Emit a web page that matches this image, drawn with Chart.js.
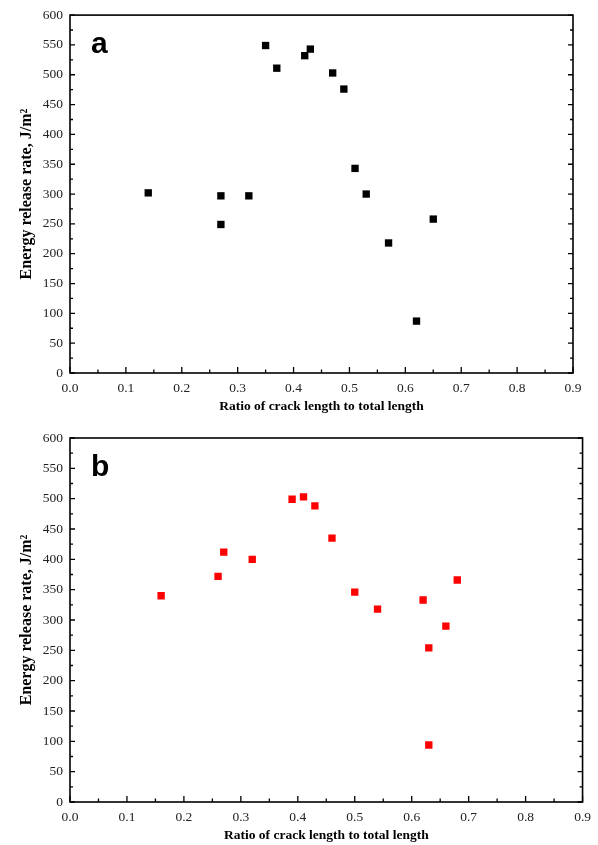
<!DOCTYPE html>
<html>
<head>
<meta charset="utf-8">
<script src="https://cdn.jsdelivr.net/npm/chart.js@4.4.0/dist/chart.umd.min.js"></script>
<style>
  html, body { margin: 0; padding: 0; background: #fff; }
  .panel { position: absolute; left: 0; width: 598px; }
  #wrapA { top: 0; height: 420px; }
  #wrapB { top: 420px; height: 425px; }
</style>
</head>
<body>
<div class="panel" id="wrapA"><canvas id="chartA"></canvas></div>
<div class="panel" id="wrapB"><canvas id="chartB"></canvas></div>
<script>
// panel a (black squares)
const ratioA  = [0.14, 0.27, 0.27, 0.32, 0.35, 0.37, 0.42, 0.43, 0.47, 0.49, 0.51, 0.53, 0.57, 0.62, 0.65];
const energyA = [302, 297, 249, 297, 549, 511, 532, 543, 503, 476, 343, 300, 218, 87, 258];

// panel b (red squares)
const ratioB  = [0.16, 0.26, 0.27, 0.32, 0.39, 0.41, 0.43, 0.46, 0.50, 0.54, 0.62, 0.68, 0.66, 0.63, 0.63];
const energyB = [340, 372, 412, 400, 499, 503, 488, 435, 346, 318, 333, 366, 290, 254, 94];

const xTitle = "Ratio of crack length to total length";
const yTitle = "Energy release rate, J/m\u00B2";
const serif = '"Liberation Serif", "Times New Roman", serif';

// frame, inward ticks and the panel letter
const framePlugin = {
    id: "frame",
    afterDraw(chart, args, opts) {
        const ctx = chart.ctx;
        const a = chart.chartArea;
        const x = chart.scales.x, y = chart.scales.y;
        ctx.save();
        ctx.strokeStyle = "#000";
        ctx.lineWidth = 1.6;
        ctx.strokeRect(a.left, a.top, a.right - a.left, a.bottom - a.top);

        ctx.lineWidth = 1.3;
        ctx.beginPath();
        for (let i = 0; i <= 18; i++) {
            const px = x.getPixelForValue(i * 0.05);
            const len = i % 2 === 0 ? 6 : 3.5;
            ctx.moveTo(px, a.bottom);
            ctx.lineTo(px, a.bottom - len);
        }
        for (let i = 0; i <= 24; i++) {
            const py = y.getPixelForValue(i * 25);
            const len = i % 2 === 0 ? 5 : 3;
            ctx.moveTo(a.left, py);
            ctx.lineTo(a.left + len, py);
            ctx.moveTo(a.right, py);
            ctx.lineTo(a.right - len, py);
        }
        ctx.stroke();

        ctx.fillStyle = "#000";
        ctx.font = 'bold 30px "Liberation Sans", Arial, sans-serif';
        ctx.textBaseline = "alphabetic";
        ctx.fillText(opts.letter, a.left + 21, a.top + 38);
        ctx.restore();
    }
};

function makeOptions(letter, topPad, rightPad, xHeight, titlePad) {
    return {
        responsive: true,
        maintainAspectRatio: false,
        animation: false,
        layout: { padding: { top: topPad, right: rightPad, left: 0, bottom: 0 } },
        plugins: {
            legend: { display: false },
            tooltip: { enabled: false },
            frame: { letter: letter }
        },
        scales: {
            x: {
                type: "linear",
                min: 0, max: 0.9,
                grid: { display: false, drawTicks: false },
                border: { display: false },
                ticks: {
                    stepSize: 0.1, padding: 7, color: "#222", autoSkip: false, maxRotation: 0,
                    font: { family: serif, size: 13.5 },
                    callback: v => v.toFixed(1)
                },
                title: {
                    display: true, text: xTitle, color: "#000",
                    font: { family: serif, size: 13.5, weight: "bold" },
                    padding: { top: 0, bottom: titlePad }
                },
                afterFit: s => { s.height = xHeight; }
            },
            y: {
                min: 0, max: 600,
                grid: { display: false, drawTicks: false },
                border: { display: false },
                ticks: {
                    stepSize: 50, padding: 7, color: "#222",
                    font: { family: serif, size: 13.5 }
                },
                title: {
                    display: true, text: yTitle, color: "#000",
                    font: { family: serif, size: 16, weight: "bold" },
                    padding: { top: 17, bottom: 0 }
                },
                afterFit: s => { s.width = 70; }
            }
        }
    };
}

function toPoints(xs, ys) {
    return xs.map((v, i) => ({ x: v, y: ys[i] }));
}

new Chart(document.getElementById("chartA"), {
    type: "scatter",
    data: {
        datasets: [{
            data: toPoints(ratioA, energyA),
            pointStyle: "rect",
            pointRadius: 5.2,
            pointBorderWidth: 0,
            backgroundColor: "#000"
        }]
    },
    options: makeOptions("a", 15, 25, 47, 5),
    plugins: [framePlugin]
});

new Chart(document.getElementById("chartB"), {
    type: "scatter",
    data: {
        datasets: [{
            data: toPoints(ratioB, energyB),
            pointStyle: "rect",
            pointRadius: 5.2,
            pointBorderWidth: 0,
            backgroundColor: "#ff0000"
        }]
    },
    options: makeOptions("b", 18, 14, 43, 1),
    plugins: [framePlugin]
});
</script>
</body>
</html>
